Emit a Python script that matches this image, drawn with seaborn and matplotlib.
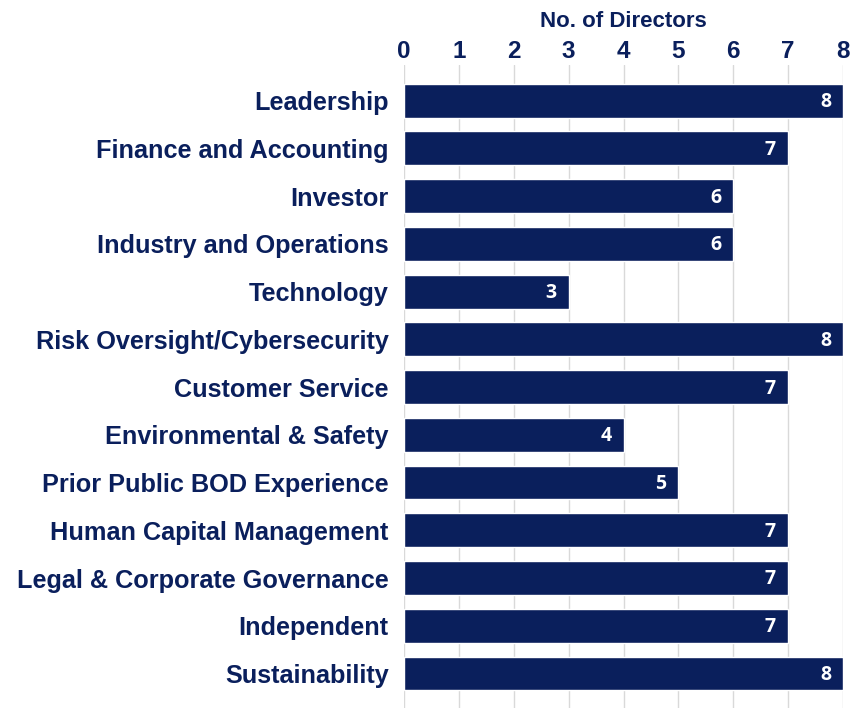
import numpy as np
import pandas as pd
import matplotlib
matplotlib.use("Agg")
import matplotlib.pyplot as plt
import seaborn as sns

# data
skills = ["Leadership", "Finance and Accounting", "Investor", "Industry and Operations",
          "Technology", "Risk Oversight/Cybersecurity", "Customer Service",
          "Environmental & Safety", "Prior Public BOD Experience", "Human Capital Management",
          "Legal & Corporate Governance", "Independent", "Sustainability"]
directors = [8, 7, 6, 6, 3, 8, 7, 4, 5, 7, 7, 7, 8]
ticks = [0, 1, 2, 3, 4, 5, 6, 7, 8]

navy = "#0a1f5c"
df = pd.DataFrame({"skill": skills, "n": directors})

sns.set_style("white")
plt.rcParams["font.family"] = ["Liberation Sans", "DejaVu Sans"]

fig = plt.figure(figsize=(8.64, 7.10), dpi=100)
ax = fig.add_axes([0.4676, 0.003, 0.5081, 0.905])

sns.barplot(data=df, y="skill", x="n", orient="h", color=navy, width=0.71,
            saturation=1, ax=ax, zorder=3)

ax.set_xlim(0, 8)
ax.set_ylim(12.72, -0.74)
ax.set_xticks(ticks)
ax.xaxis.tick_top()
ax.xaxis.set_label_position("top")
ax.set_xlabel("No. of Directors", fontsize=16, fontweight="bold", color=navy, labelpad=9)
ax.set_ylabel("")
ax.tick_params(axis="x", length=0, labelsize=17.5, labelcolor=navy, pad=2)
ax.tick_params(axis="y", length=0, labelsize=18.2, labelcolor=navy, pad=11)
for lab in ax.get_xticklabels() + ax.get_yticklabels():
    lab.set_fontweight("bold")

ax.grid(axis="x", color="#d9d9d9", linewidth=1, zorder=0)
for s in ax.spines.values():
    s.set_visible(False)

for i, v in enumerate(directors):
    ax.text(v - 0.22, i + 0.03, str(v), ha="right", va="center", color="white",
            fontsize=14, fontweight="bold", family=["Open Sans", "DejaVu Sans"], zorder=4)

fig.savefig("out.png", dpi=100)
